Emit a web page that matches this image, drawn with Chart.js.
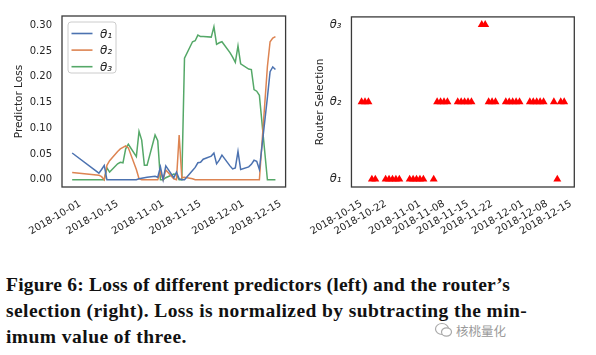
<!DOCTYPE html>
<html><head><meta charset="utf-8">
<script src="https://cdn.jsdelivr.net/npm/chart.js@4.4.1/dist/chart.umd.min.js"></script>
<style>
html,body{margin:0;padding:0;background:#fff;width:596px;height:355px;overflow:hidden;}
.box{position:absolute;top:0;}
.cap{position:absolute;left:6px;font-family:"Liberation Serif",serif;font-weight:bold;font-size:19.5px;color:#111;white-space:nowrap;line-height:1;}
.wm{position:absolute;left:456px;top:321px;font-family:"Noto Sans CJK SC",sans-serif;font-size:12.5px;color:#9a9a9a;}
</style></head><body>
<div class="box" style="left:0;width:298px;height:245px"><canvas id="c1" width="298" height="245"></canvas></div>
<div class="box" style="left:298px;width:298px;height:245px"><canvas id="c2" width="298" height="245"></canvas></div>
<div class="cap" style="top:275px;letter-spacing:0.22px">Figure 6: Loss of different predictors (left) and the router’s</div>
<div class="cap" style="top:301px;letter-spacing:0.42px">selection (right). Loss is normalized by subtracting the min-</div>
<div class="cap" style="top:327px;letter-spacing:0.45px">imum value of three.</div>
<svg style="position:absolute;left:434px;top:321px" width="20" height="18" viewBox="0 0 20 18">
 <ellipse cx="8" cy="8" rx="6.5" ry="5.5" fill="none" stroke="#aaa" stroke-width="1.2"/>
 <ellipse cx="12.5" cy="11" rx="5" ry="4.2" fill="#fff" stroke="#aaa" stroke-width="1.2"/>
</svg>
<div class="wm">核桃量化</div>
<script>
// ---------- data ----------
const lossDates = [
 '2018-09-28',
 '2018-10-08','2018-10-09','2018-10-10','2018-10-11','2018-10-12',
 '2018-10-15','2018-10-16','2018-10-17','2018-10-18','2018-10-19',
 '2018-10-22','2018-10-23','2018-10-24','2018-10-25','2018-10-26',
 '2018-10-29','2018-10-30','2018-10-31','2018-11-01','2018-11-02',
 '2018-11-05','2018-11-06','2018-11-07','2018-11-08','2018-11-09',
 '2018-11-12','2018-11-13','2018-11-14','2018-11-15','2018-11-16',
 '2018-11-19','2018-11-20','2018-11-21','2018-11-22','2018-11-23',
 '2018-11-26','2018-11-27','2018-11-28','2018-11-29','2018-11-30',
 '2018-12-03','2018-12-04','2018-12-05','2018-12-06','2018-12-07',
 '2018-12-10','2018-12-11','2018-12-12','2018-12-13'
];
const theta1Loss = [
 0.052,
 0.013,0.020,0.028,0.000,0.000,
 0.000,0.000,0.000,0.000,0.000,
 0.000,0.002,0.003,0.004,0.005,
 0.007,0.005,0.025,0.000,0.027,
 0.004,0.015,0.002,0.000,0.000,
 0.018,0.024,0.033,0.034,0.040,
 0.046,0.052,0.031,0.038,0.048,
 0.027,0.021,0.023,0.055,0.020,
 0.025,0.030,0.038,0.036,0.020,
 0.160,0.210,0.219,0.214
];
const theta2Loss = [
 0.014,
 0.009,0.006,0.000,0.028,0.037,
 0.055,0.060,0.063,0.066,0.062,
 0.020,0.002,0.000,0.000,0.000,
 0.000,0.000,0.015,0.000,0.019,
 0.002,0.000,0.087,0.004,0.005,
 0.002,0.000,0.000,0.000,0.000,
 0.000,0.000,0.000,0.000,0.000,
 0.000,0.000,0.000,0.000,0.000,
 0.000,0.000,0.000,0.000,0.000,
 0.220,0.268,0.275,0.278
];
const theta3Loss = [
 0.000,
 0.000,0.000,0.000,0.023,0.015,
 0.031,0.034,0.033,0.060,0.069,
 0.045,0.094,0.077,0.028,0.028,
 0.087,0.076,0.000,0.000,0.004,
 0.011,0.010,0.000,0.000,0.236,
 0.268,0.270,0.281,0.278,0.278,
 0.277,0.297,0.263,0.266,0.268,
 0.247,0.238,0.228,0.260,0.225,
 0.215,0.214,0.175,0.172,0.164,
 0.000,0.000,0.000,0.000
];
const seriesNames = ['θ₁','θ₂','θ₃'];
const seriesColors = ['#4C72B0','#DD8452','#55A868'];
const lossYTicks = [0.00,0.05,0.10,0.15,0.20,0.25,0.30];
const lossXTicks = ['2018-10-01','2018-10-15','2018-11-01','2018-11-15','2018-12-01','2018-12-15'];

const routerDates = [
 '2018-10-15','2018-10-16','2018-10-17','2018-10-18','2018-10-19',
 '2018-10-22','2018-10-23','2018-10-24','2018-10-25','2018-10-26',
 '2018-10-29','2018-10-30','2018-10-31','2018-11-01','2018-11-02',
 '2018-11-05','2018-11-06','2018-11-07','2018-11-08','2018-11-09',
 '2018-11-12','2018-11-13','2018-11-14','2018-11-15','2018-11-16',
 '2018-11-19','2018-11-20','2018-11-21','2018-11-22','2018-11-23',
 '2018-11-26','2018-11-27','2018-11-28','2018-11-29','2018-11-30',
 '2018-12-03','2018-12-04','2018-12-05','2018-12-06','2018-12-07',
 '2018-12-10','2018-12-11','2018-12-12','2018-12-13'
];
const routerChoice = [
 2,2,2,1,1,
 1,1,1,1,1,
 1,1,1,1,1,
 1,2,2,2,2,
 2,2,2,2,2,
 3,3,2,2,2,
 2,2,2,2,2,
 2,2,2,2,2,
 2,1,2,2
];
const routerYLabels = ['θ₁','θ₂','θ₃'];
const routerXTicks = ['2018-10-15','2018-10-22','2018-11-01','2018-11-08','2018-11-15','2018-11-22','2018-12-01','2018-12-08','2018-12-15'];

// ---------- helpers ----------
const dayNum = s => { const [y,m,d] = s.split('-').map(Number); return Date.UTC(y, m-1, d) / 864e5; };
const fmtDay = v => new Date(v * 864e5).toISOString().slice(0,10);
const TXT = '#262626';
const FONT = '"DejaVu Sans", sans-serif';

const framePlugin = {
  id: 'frame',
  afterDraw(chart) {
    const a = chart.chartArea, ctx = chart.ctx;
    ctx.save();
    ctx.strokeStyle = '#3a3a3a';
    ctx.lineWidth = 1.3;
    ctx.strokeRect(a.left, a.top, a.right - a.left, a.bottom - a.top);
    ctx.restore();
  }
};

const legendPlugin = {
  id: 'boxLegend',
  afterDatasetsDraw(chart) {
    const ctx = chart.ctx, a = chart.chartArea;
    const x0 = a.left + 6, y0 = a.top + 6, w = 48, h = 51;
    ctx.save();
    ctx.beginPath();
    ctx.roundRect(x0, y0, w, h, 3);
    ctx.fillStyle = 'rgba(255,255,255,0.85)';
    ctx.fill();
    ctx.strokeStyle = '#cccccc';
    ctx.lineWidth = 1;
    ctx.stroke();
    chart.data.datasets.forEach((ds, i) => {
      const yy = y0 + 11.5 + i * 16.6;
      ctx.strokeStyle = ds.borderColor;
      ctx.lineWidth = 1.6;
      ctx.beginPath();
      ctx.moveTo(x0 + 3.5, yy);
      ctx.lineTo(x0 + 24.5, yy);
      ctx.stroke();
      ctx.fillStyle = TXT;
      ctx.font = 'italic 12px ' + FONT;
      ctx.textBaseline = 'middle';
      ctx.textAlign = 'left';
      ctx.fillText(ds.label, x0 + 32, yy + 1);
    });
    ctx.restore();
  }
};

// ---------- left chart ----------
const lossX = lossDates.map(dayNum);
const lSpan = lossX[lossX.length-1] - lossX[0];
const mk = (arr) => arr.map((v, i) => ({x: lossX[i], y: v}));
const lossSeries = [theta1Loss, theta2Loss, theta3Loss];

new Chart(document.getElementById('c1'), {
  type: 'line',
  data: {
    datasets: lossSeries.map((s, i) => ({
      label: seriesNames[i], data: mk(s), borderColor: seriesColors[i],
      borderWidth: 1.5, pointRadius: 0, tension: 0, fill: false
    }))
  },
  options: {
    responsive: false, animation: false, events: [],
    layout: {padding: {left: 0, right: 10, top: 6, bottom: 0}},
    plugins: {legend: {display: false}, tooltip: {enabled: false}},
    scales: {
      x: {
        type: 'linear',
        min: lossX[0] - 0.05 * lSpan, max: lossX[lossX.length-1] + 0.05 * lSpan,
        afterBuildTicks: sc => { sc.ticks = lossXTicks.map(t => ({value: dayNum(t)})); },
        afterFit: sc => { sc.height = 58; },
        grid: {display: false, drawTicks: false},
        border: {display: false},
        ticks: {autoSkip: false, minRotation: 30, maxRotation: 30, padding: 11,
          color: TXT, font: {family: FONT, size: 10}, callback: v => fmtDay(v)}
      },
      y: {
        min: -0.014, max: 0.318,
        afterBuildTicks: sc => { sc.ticks = lossYTicks.map(v => ({value: v})); },
        afterFit: sc => { sc.width = 62; },
        grid: {display: false, drawTicks: false},
        border: {display: false},
        ticks: {padding: 10, color: TXT, font: {family: FONT, size: 10}, callback: v => v.toFixed(2)},
        title: {display: true, text: 'Predictor Loss', color: TXT,
          font: {family: FONT, size: 10.5}, padding: {top: 13, bottom: 0}}
      }
    }
  },
  plugins: [framePlugin, legendPlugin]
});

// ---------- right chart ----------
const rX = routerDates.map(dayNum);
const rSpan = rX[rX.length-1] - rX[0];
new Chart(document.getElementById('c2'), {
  type: 'scatter',
  data: {
    datasets: [{
      label: 'Router Selection',
      data: routerChoice.map((c, i) => ({x: rX[i], y: c})),
      pointStyle: 'triangle', pointRadius: 4.6, pointBorderWidth: 0,
      backgroundColor: '#ff0000', borderColor: '#ff0000'
    }]
  },
  options: {
    responsive: false, animation: false, events: [],
    layout: {padding: {left: 0, right: 21.7, top: 8, bottom: 0}},
    plugins: {legend: {display: false}, tooltip: {enabled: false}},
    scales: {
      x: {
        type: 'linear',
        min: rX[0] - 0.05 * rSpan, max: rX[rX.length-1] + 0.05 * rSpan,
        afterBuildTicks: sc => { sc.ticks = routerXTicks.map(t => ({value: dayNum(t)})); },
        afterFit: sc => { sc.height = 58; },
        grid: {display: false, drawTicks: false},
        border: {display: false},
        ticks: {autoSkip: false, minRotation: 30, maxRotation: 30, padding: 11,
          color: TXT, font: {family: FONT, size: 10}, callback: v => fmtDay(v)}
      },
      y: {
        min: 0.9, max: 3.1,
        afterBuildTicks: sc => { sc.ticks = [1,2,3].map(v => ({value: v})); },
        afterFit: sc => { sc.width = 49.5; },
        grid: {display: false, drawTicks: false},
        border: {display: false},
        ticks: {padding: 10, color: TXT, font: {family: FONT, size: 11.5, style: 'italic'},
          callback: v => routerYLabels[v - 1]},
        title: {display: true, text: 'Router Selection', color: TXT,
          font: {family: FONT, size: 10.5}, padding: {top: 12.4, bottom: 0}}
      }
    }
  },
  plugins: [framePlugin]
});
</script>
</body></html>
